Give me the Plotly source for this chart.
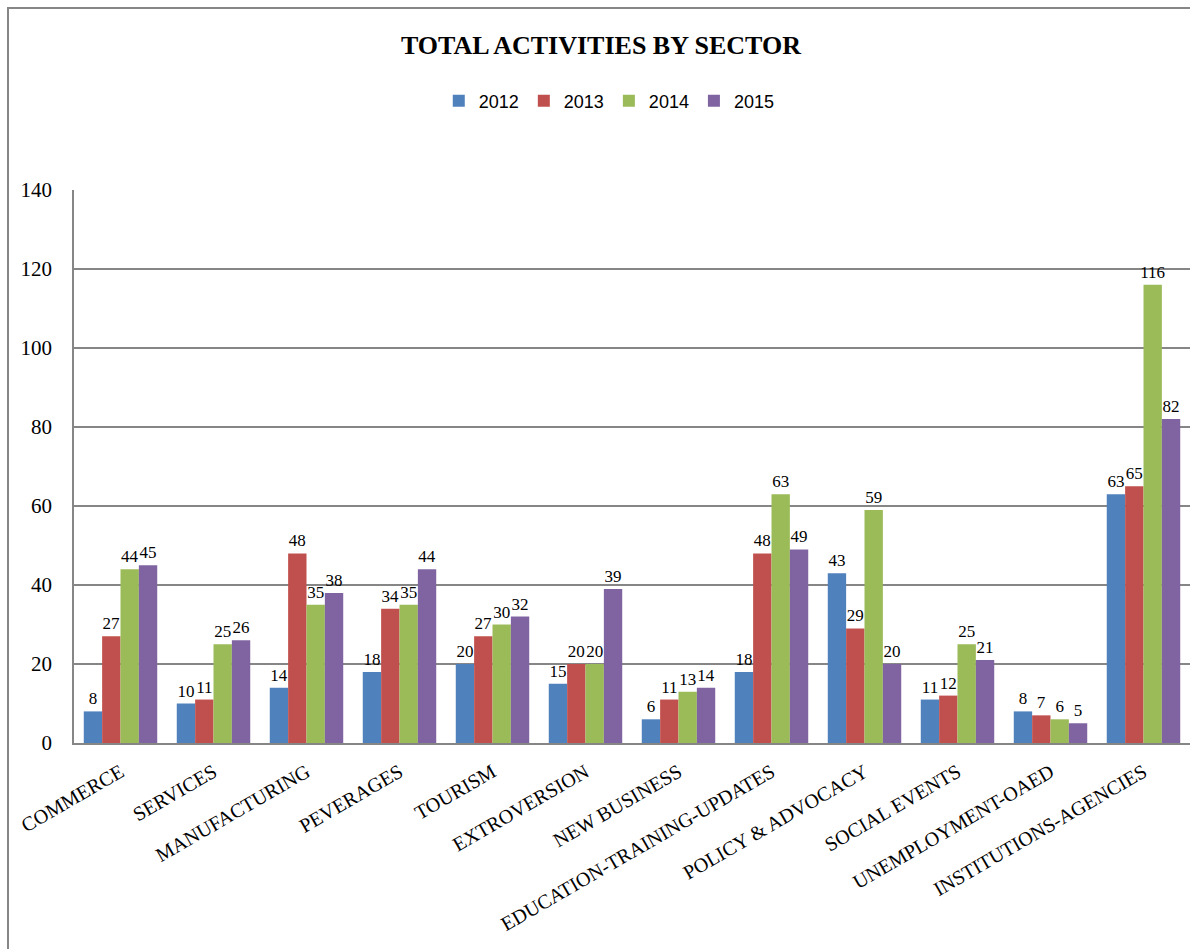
import plotly.graph_objects as go

categories = ["COMMERCE", "SERVICES", "MANUFACTURING", "PEVERAGES", "TOURISM",
              "EXTROVERSION", "NEW BUSINESS", "EDUCATION-TRAINING-UPDATES",
              "POLICY & ADVOCACY", "SOCIAL EVENTS", "UNEMPLOYMENT-OAED",
              "INSTITUTIONS-AGENCIES"]
years = ["2012", "2013", "2014", "2015"]
v2012 = [8, 10, 14, 18, 20, 15, 6, 18, 43, 11, 8, 63]
v2013 = [27, 11, 48, 34, 27, 20, 11, 48, 29, 12, 7, 65]
v2014 = [44, 25, 35, 35, 30, 20, 13, 63, 59, 25, 6, 116]
v2015 = [45, 26, 38, 44, 32, 39, 14, 49, 20, 21, 5, 82]
series = [v2012, v2013, v2014, v2015]
colors = ["#4F81BD", "#C0504D", "#9BBB59", "#8064A2"]

SERIF = "Liberation Serif, Cambria, serif"
SANS = "Liberation Sans, Arial, sans-serif"
GRID = "#868686"

fig = go.Figure()
for name, vals, col in zip(years, series, colors):
    fig.add_trace(go.Bar(
        name=name, x=categories, y=vals,
        marker=dict(color=col, line=dict(width=0)),
        text=[str(v) for v in vals], textposition="outside",
        textfont=dict(family=SERIF, size=17, color="#000000"),
        constraintext="none", cliponaxis=False,
    ))

fig.update_layout(
    width=1190, height=949,
    margin=dict(l=74, r=0, t=190, b=206),
    paper_bgcolor="white", plot_bgcolor="white",
    barmode="group", bargap=0.21, bargroupgap=0,
    title=dict(text="<b>TOTAL ACTIVITIES BY SECTOR</b>",
               font=dict(family=SERIF, size=26, color="#000000"),
               x=0.505, xanchor="center", y=1 - 45 / 949, yanchor="middle"),
    legend=dict(orientation="h", x=0.512, xref="container", xanchor="center",
                y=1 - 101 / 949, yref="container", yanchor="middle",
                font=dict(family=SANS, size=18, color="#000000"),
                itemwidth=30, traceorder="normal"),
    xaxis=dict(tickangle=-30, showgrid=False, showline=True, linecolor=GRID,
               linewidth=1.5, ticklabelstandoff=8,
               tickfont=dict(family=SERIF, size=20, color="#000000")),
    yaxis=dict(range=[0, 140], dtick=20, showgrid=True, gridcolor=GRID,
               gridwidth=1.5, showline=True, linecolor=GRID, linewidth=1.5,
               zeroline=False, ticklabelstandoff=16,
               tickfont=dict(family=SERIF, size=21, color="#000000")),
    shapes=[dict(type="rect", xref="paper", yref="paper",
                 x0=(8 - 74) / 1116, x1=1.05,
                 y0=-0.6, y1=(743 - 8) / 553,
                 line=dict(color=GRID, width=2), fillcolor="rgba(0,0,0,0)",
                 layer="below")],
)

fig.write_html("out.html")
